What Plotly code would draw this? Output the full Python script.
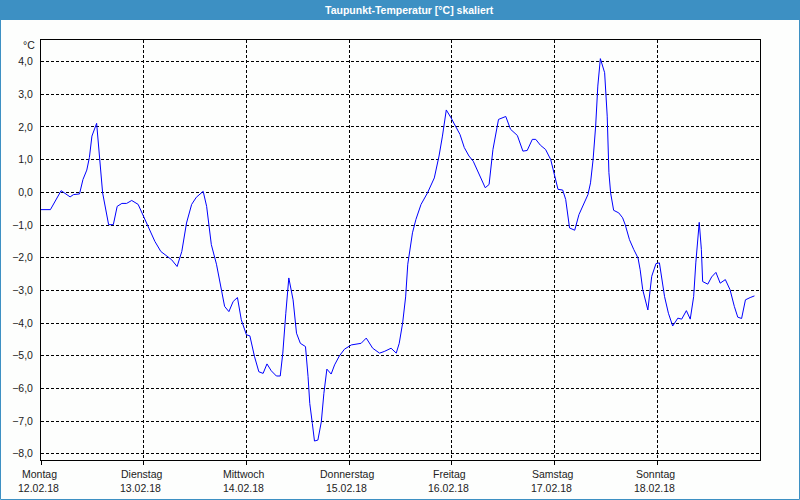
import plotly.graph_objects as go

# Hours since Monday 12.02.18 00:00 and dew point values (°C)
hours = [0, 2.2, 4.7, 6.8, 7.6, 9.0, 9.8, 10.7, 11.3, 11.9, 13.0, 13.7, 14.4, 15.8, 16.9, 17.8,
         18.9, 20.0, 21.2, 22.7, 23.9, 25.5, 26.6, 28.0, 29.7, 30.5, 31.8, 32.9, 34.0, 35.2,
         36.3, 37.9, 38.7, 39.8, 41.0, 41.4, 42.5, 42.9, 43.9, 44.9, 45.9, 46.8, 48.0, 48.8,
         49.9, 50.9, 51.9, 52.8, 53.8, 55.0, 55.9, 56.5, 57.2, 57.9, 58.9, 59.7, 60.6, 61.8,
         62.4, 62.8, 63.4, 63.9, 64.7, 65.5, 66.1, 66.8, 67.8, 68.6, 69.7, 70.9, 72.5, 74.8,
         76.0, 77.5, 79.1, 80.2, 81.8, 83.0, 83.7, 84.5, 85.2, 85.7, 86.8, 87.6, 88.8, 90.3,
         91.9, 93.0, 93.8, 94.7, 95.8, 96.9, 97.9, 98.9, 100.0, 101.0, 102.4, 103.8, 104.7,
         105.6, 106.9, 108.6, 109.7, 111.3, 112.6, 113.6, 114.8, 115.6, 116.7, 117.9, 119.1,
         119.8, 120.8, 121.9, 122.6, 123.5, 124.7, 125.7, 126.8, 127.8, 128.4, 129.0, 129.6,
         130.1, 130.7, 131.7, 132.3, 132.7, 133.1, 133.8, 135.0, 135.9, 136.5, 137.5, 138.5,
         139.5, 140.0, 140.6, 141.8, 142.7, 143.7, 144.5, 145.7, 146.6, 147.6, 148.8, 149.7,
         150.8, 151.7, 152.5, 153.0, 153.8, 154.3, 154.6, 155.8, 156.7, 157.7, 158.7, 159.9,
         161.0, 162.0, 162.8, 163.7, 164.6, 165.7, 166.7]
dewpoint = [-0.53, -0.53, 0.05, -0.14, -0.07, -0.05, 0.39, 0.68, 1.06, 1.72, 2.11, 1.06, -0.02,
            -0.99, -0.99, -0.43, -0.34, -0.34, -0.25, -0.37, -0.73, -1.19, -1.5, -1.81, -1.98,
            -2.06, -2.27, -1.81, -0.94, -0.37, -0.15, 0.03, -0.43, -1.6, -2.2, -2.47, -3.29,
            -3.49, -3.65, -3.34, -3.22, -3.9, -4.36, -4.39, -5.03, -5.49, -5.54, -5.25, -5.46,
            -5.62, -5.62, -4.92, -3.70, -2.62, -3.29, -4.31, -4.62, -4.72, -5.64, -6.46, -7.07,
            -7.61, -7.58, -7.02, -6.15, -5.41, -5.56, -5.28, -5.01, -4.8, -4.67, -4.62, -4.46,
            -4.77, -4.92, -4.87, -4.77, -4.92, -4.62, -4.0, -3.2, -2.2, -1.24, -0.83, -0.37,
            -0.02, 0.44, 1.11, 1.72, 2.52, 2.28, 2.03, 1.77, 1.37, 1.11, 0.95, 0.55, 0.14, 0.24,
            1.31, 2.23, 2.32, 1.93, 1.74, 1.26, 1.28, 1.62, 1.62, 1.44, 1.31, 1.0, 0.6, 0.09,
            0.07, -0.22, -1.09, -1.16, -0.68, -0.37, -0.07, 0.29, 1.0, 2.03, 3.25, 4.09, 3.66,
            2.33, 0.6, -0.02, -0.55, -0.63, -0.78, -0.99, -1.45, -1.75, -2.01, -2.37, -2.98,
            -3.6, -2.57, -2.18, -2.16, -3.19, -3.70, -4.09, -3.85, -3.88, -3.62, -3.88, -3.19,
            -2.16, -0.92, -1.75, -2.73, -2.81, -2.59, -2.45, -2.78, -2.67, -2.98, -3.49, -3.82,
            -3.86, -3.29, -3.22, -3.17]

day_names = ["Montag", "Dienstag", "Mittwoch", "Donnerstag", "Freitag", "Samstag", "Sonntag"]
day_dates = ["12.02.18", "13.02.18", "14.02.18", "15.02.18", "16.02.18", "17.02.18", "18.02.18"]
day_hours = [0, 24, 48, 72, 96, 120, 144]
y_ticks = [4, 3, 2, 1, 0, -1, -2, -3, -4, -5, -6, -7, -8]

title_text = "Taupunkt-Temperatur [°C] skaliert"
unit_text = "°C"

BLUE = "#3d90c3"
FONT = "Liberation Sans"
TXT = "#222222"

W, H = 800, 500
ML, MR, MT, MB = 41, 40, 40, 40
PW, PH = W - ML - MR, H - MT - MB


def px_x(p):
    return (p - ML) / PW


def px_y(p):
    return (H - MB - p) / PH


fig = go.Figure()
fig.add_trace(go.Scatter(x=hours, y=dewpoint, mode="lines",
                         line=dict(color="#0000ff", width=1), hoverinfo="x+y",
                         showlegend=False))

annotations = [
    dict(text=title_text, xref="paper", yref="paper", x=px_x(409), y=px_y(9.5),
         xanchor="center", yanchor="middle", showarrow=False,
         font=dict(family=FONT, size=10.5, color="#ffffff", weight="bold")),
    dict(text=unit_text, xref="paper", yref="paper", x=px_x(37), y=px_y(45),
         xanchor="right", yanchor="middle", showarrow=False,
         font=dict(family=FONT, size=10.5, color=TXT)),
]
for h, n, d in zip(day_hours, day_names, day_dates):
    annotations.append(dict(text=n, xref="x", yref="paper", x=h, y=px_y(474),
                            xanchor="center", yanchor="middle", showarrow=False,
                            xshift=-2, font=dict(family=FONT, size=10.5, color=TXT)))
    annotations.append(dict(text=d, xref="x", yref="paper", x=h, y=px_y(488),
                            xanchor="center", yanchor="middle", showarrow=False,
                            xshift=-3, font=dict(family=FONT, size=10.5, color=TXT)))

fig.update_layout(
    width=W, height=H,
    margin=dict(l=ML, r=MR, t=MT, b=MB, pad=0),
    paper_bgcolor="#fdfefd", plot_bgcolor="#fdfefd",
    separators=",.",
    font=dict(family=FONT, size=10.5, color=TXT),
    xaxis=dict(range=[0, 168], tickmode="array", tickvals=day_hours,
               showticklabels=False,
               showgrid=True, gridcolor="#000000", gridwidth=1, griddash="3px,2px",
               showline=True, linecolor="#000000", linewidth=1, mirror=True,
               ticks="outside", ticklen=4, tickcolor="#000000", zeroline=False),
    yaxis=dict(range=[-8.19, 4.66], tickmode="array", tickvals=y_ticks,
               tickformat=".1f",
               showgrid=True, gridcolor="#000000", gridwidth=1, griddash="3px,2px",
               showline=True, linecolor="#000000", linewidth=1, mirror=True,
               ticks="", zeroline=False, ticklabelstandoff=5,
               tickfont=dict(family=FONT, size=10.5, color=TXT)),
    shapes=[
        dict(type="rect", xref="paper", yref="paper",
             x0=px_x(-2), x1=px_x(802), y0=px_y(20), y1=px_y(-2),
             fillcolor=BLUE, line=dict(width=0), layer="above"),
        dict(type="rect", xref="paper", yref="paper",
             x0=px_x(0.5), x1=px_x(799.5), y0=px_y(499.5), y1=px_y(0.5),
             line=dict(color=BLUE, width=1), fillcolor="rgba(0,0,0,0)", layer="above"),
    ],
    annotations=annotations,
)

fig.write_html("out.html", config={"displayModeBar": False},
               post_script="document.body.style.margin='0';document.body.style.overflow='hidden';")
